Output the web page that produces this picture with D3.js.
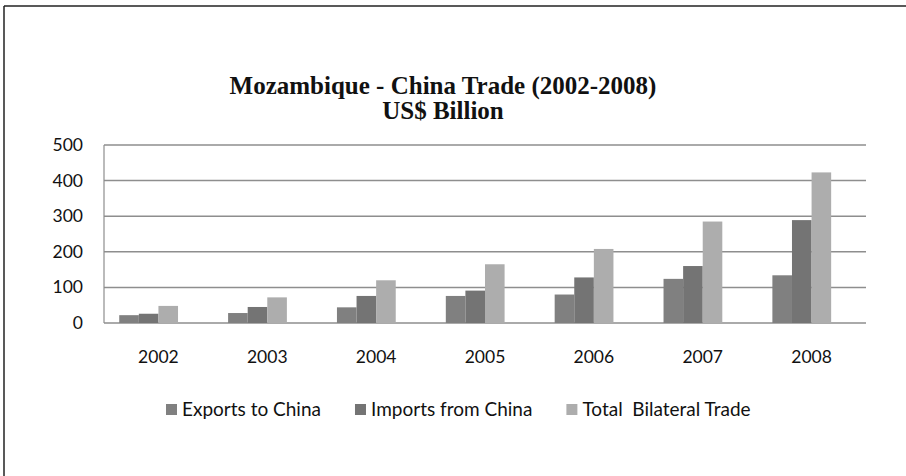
<!DOCTYPE html>
<html lang="en">
<head>
    <meta charset="UTF-8">
    <title>Mozambique - China Trade</title>
    <script src="https://cdn.jsdelivr.net/npm/d3@7"></script>
    <style>
        body { margin: 0; background: #fff; }
    </style>
</head>
<body>
    <svg id="chart"></svg>

    <script>
        const years = ["2002", "2003", "2004", "2005", "2006", "2007", "2008"];
        const exportsToChina = [22, 28, 44, 76, 80, 124, 134];
        const importsFromChina = [26, 45, 76, 91, 128, 160, 289];
        const totalTrade = [48, 72, 120, 165, 208, 285, 423];
        const seriesNames = ["Exports to China", "Imports from China", "Total  Bilateral Trade"];
        const yTicks = [0, 100, 200, 300, 400, 500];

        const width = 906;
        const height = 476;
        const plot = { left: 104, right: 866, top: 145, bottom: 323 };
        const colors = ["#808080", "#747474", "#adadad"];
        const sans = "Lato, 'Open Sans', sans-serif";

        const svg = d3.select("#chart")
            .attr("width", width)
            .attr("height", height);

        // frame (only top and left edges are visible in the original)
        svg.append("line").attr("x1", 4).attr("x2", width).attr("y1", 6).attr("y2", 6)
            .attr("stroke", "#222").attr("stroke-width", 1.5);
        svg.append("line").attr("x1", 4).attr("x2", 4).attr("y1", 6).attr("y2", height)
            .attr("stroke", "#222").attr("stroke-width", 1.5);

        const x0 = d3.scaleBand()
            .domain(years)
            .range([plot.left, plot.right]);

        // the original leaves room for a fourth (empty) slot on the right of each group
        const slot = x0.bandwidth() * 0.18;
        const x1 = d3.scaleBand()
            .domain(seriesNames)
            .range([x0.bandwidth() * 0.14, x0.bandwidth() * 0.14 + slot * 3]);

        const y = d3.scaleLinear()
            .domain([0, 500])
            .range([plot.bottom, plot.top]);

        // gridlines
        svg.append("g")
            .selectAll("line")
            .data(yTicks)
            .join("line")
            .attr("x1", plot.left)
            .attr("x2", plot.right)
            .attr("y1", d => y(d))
            .attr("y2", d => y(d))
            .attr("stroke", "#8e8e8e")
            .attr("stroke-width", 1.5);

        svg.append("line")
            .attr("x1", plot.left).attr("x2", plot.left)
            .attr("y1", y(500)).attr("y2", y(0))
            .attr("stroke", "#8e8e8e")
            .attr("stroke-width", 1.2);

        // y tick labels
        svg.append("g")
            .selectAll("text")
            .data(yTicks)
            .join("text")
            .attr("x", 83)
            .attr("y", d => y(d) + 6)
            .attr("text-anchor", "end")
            .attr("font-family", sans)
            .attr("font-size", "17.5px")
            .attr("fill", "#111")
            .text(d => d);

        // bars
        const rows = years.map((yr, i) => ({
            year: yr,
            values: [exportsToChina[i], importsFromChina[i], totalTrade[i]]
        }));

        svg.append("g")
            .selectAll("g")
            .data(rows)
            .join("g")
            .attr("transform", d => `translate(${x0(d.year)},0)`)
            .selectAll("rect")
            .data(d => d.values.map((v, j) => ({ key: seriesNames[j], value: v, idx: j })))
            .join("rect")
            .attr("x", d => x1(d.key))
            .attr("y", d => y(d.value))
            .attr("width", x1.bandwidth())
            .attr("height", d => y(0) - y(d.value))
            .attr("fill", d => colors[d.idx]);

        // x labels
        svg.append("g")
            .selectAll("text")
            .data(years)
            .join("text")
            .attr("x", d => x0(d) + x0.bandwidth() / 2)
            .attr("y", 363)
            .attr("text-anchor", "middle")
            .attr("font-family", sans)
            .attr("font-size", "17.5px")
            .attr("fill", "#111")
            .text(d => d);

        // title
        const title = svg.append("text")
            .attr("text-anchor", "middle")
            .attr("font-family", "'Liberation Serif', 'Times New Roman', serif")
            .attr("font-weight", "bold")
            .attr("font-size", "25px")
            .attr("fill", "#111");
        title.append("tspan").attr("x", 443).attr("y", 94).text("Mozambique - China Trade (2002-2008)");
        title.append("tspan").attr("x", 443).attr("y", 119).text("US$ Billion");

        // legend
        let lx = 166;
        seriesNames.forEach((name, i) => {
            const g = svg.append("g").attr("transform", `translate(${lx},0)`);
            g.append("rect")
                .attr("x", 0).attr("y", 404)
                .attr("width", 11).attr("height", 11)
                .attr("fill", colors[i]);
            const t = g.append("text")
                .attr("x", 16).attr("y", 416)
                .attr("font-family", sans)
                .attr("font-size", "19px")
                .attr("fill", "#111")
                .attr("xml:space", "preserve")
                .style("white-space", "pre")
                .text(name);
            lx += 16 + t.node().getComputedTextLength() + 34;
        });
    </script>
</body>
</html>
